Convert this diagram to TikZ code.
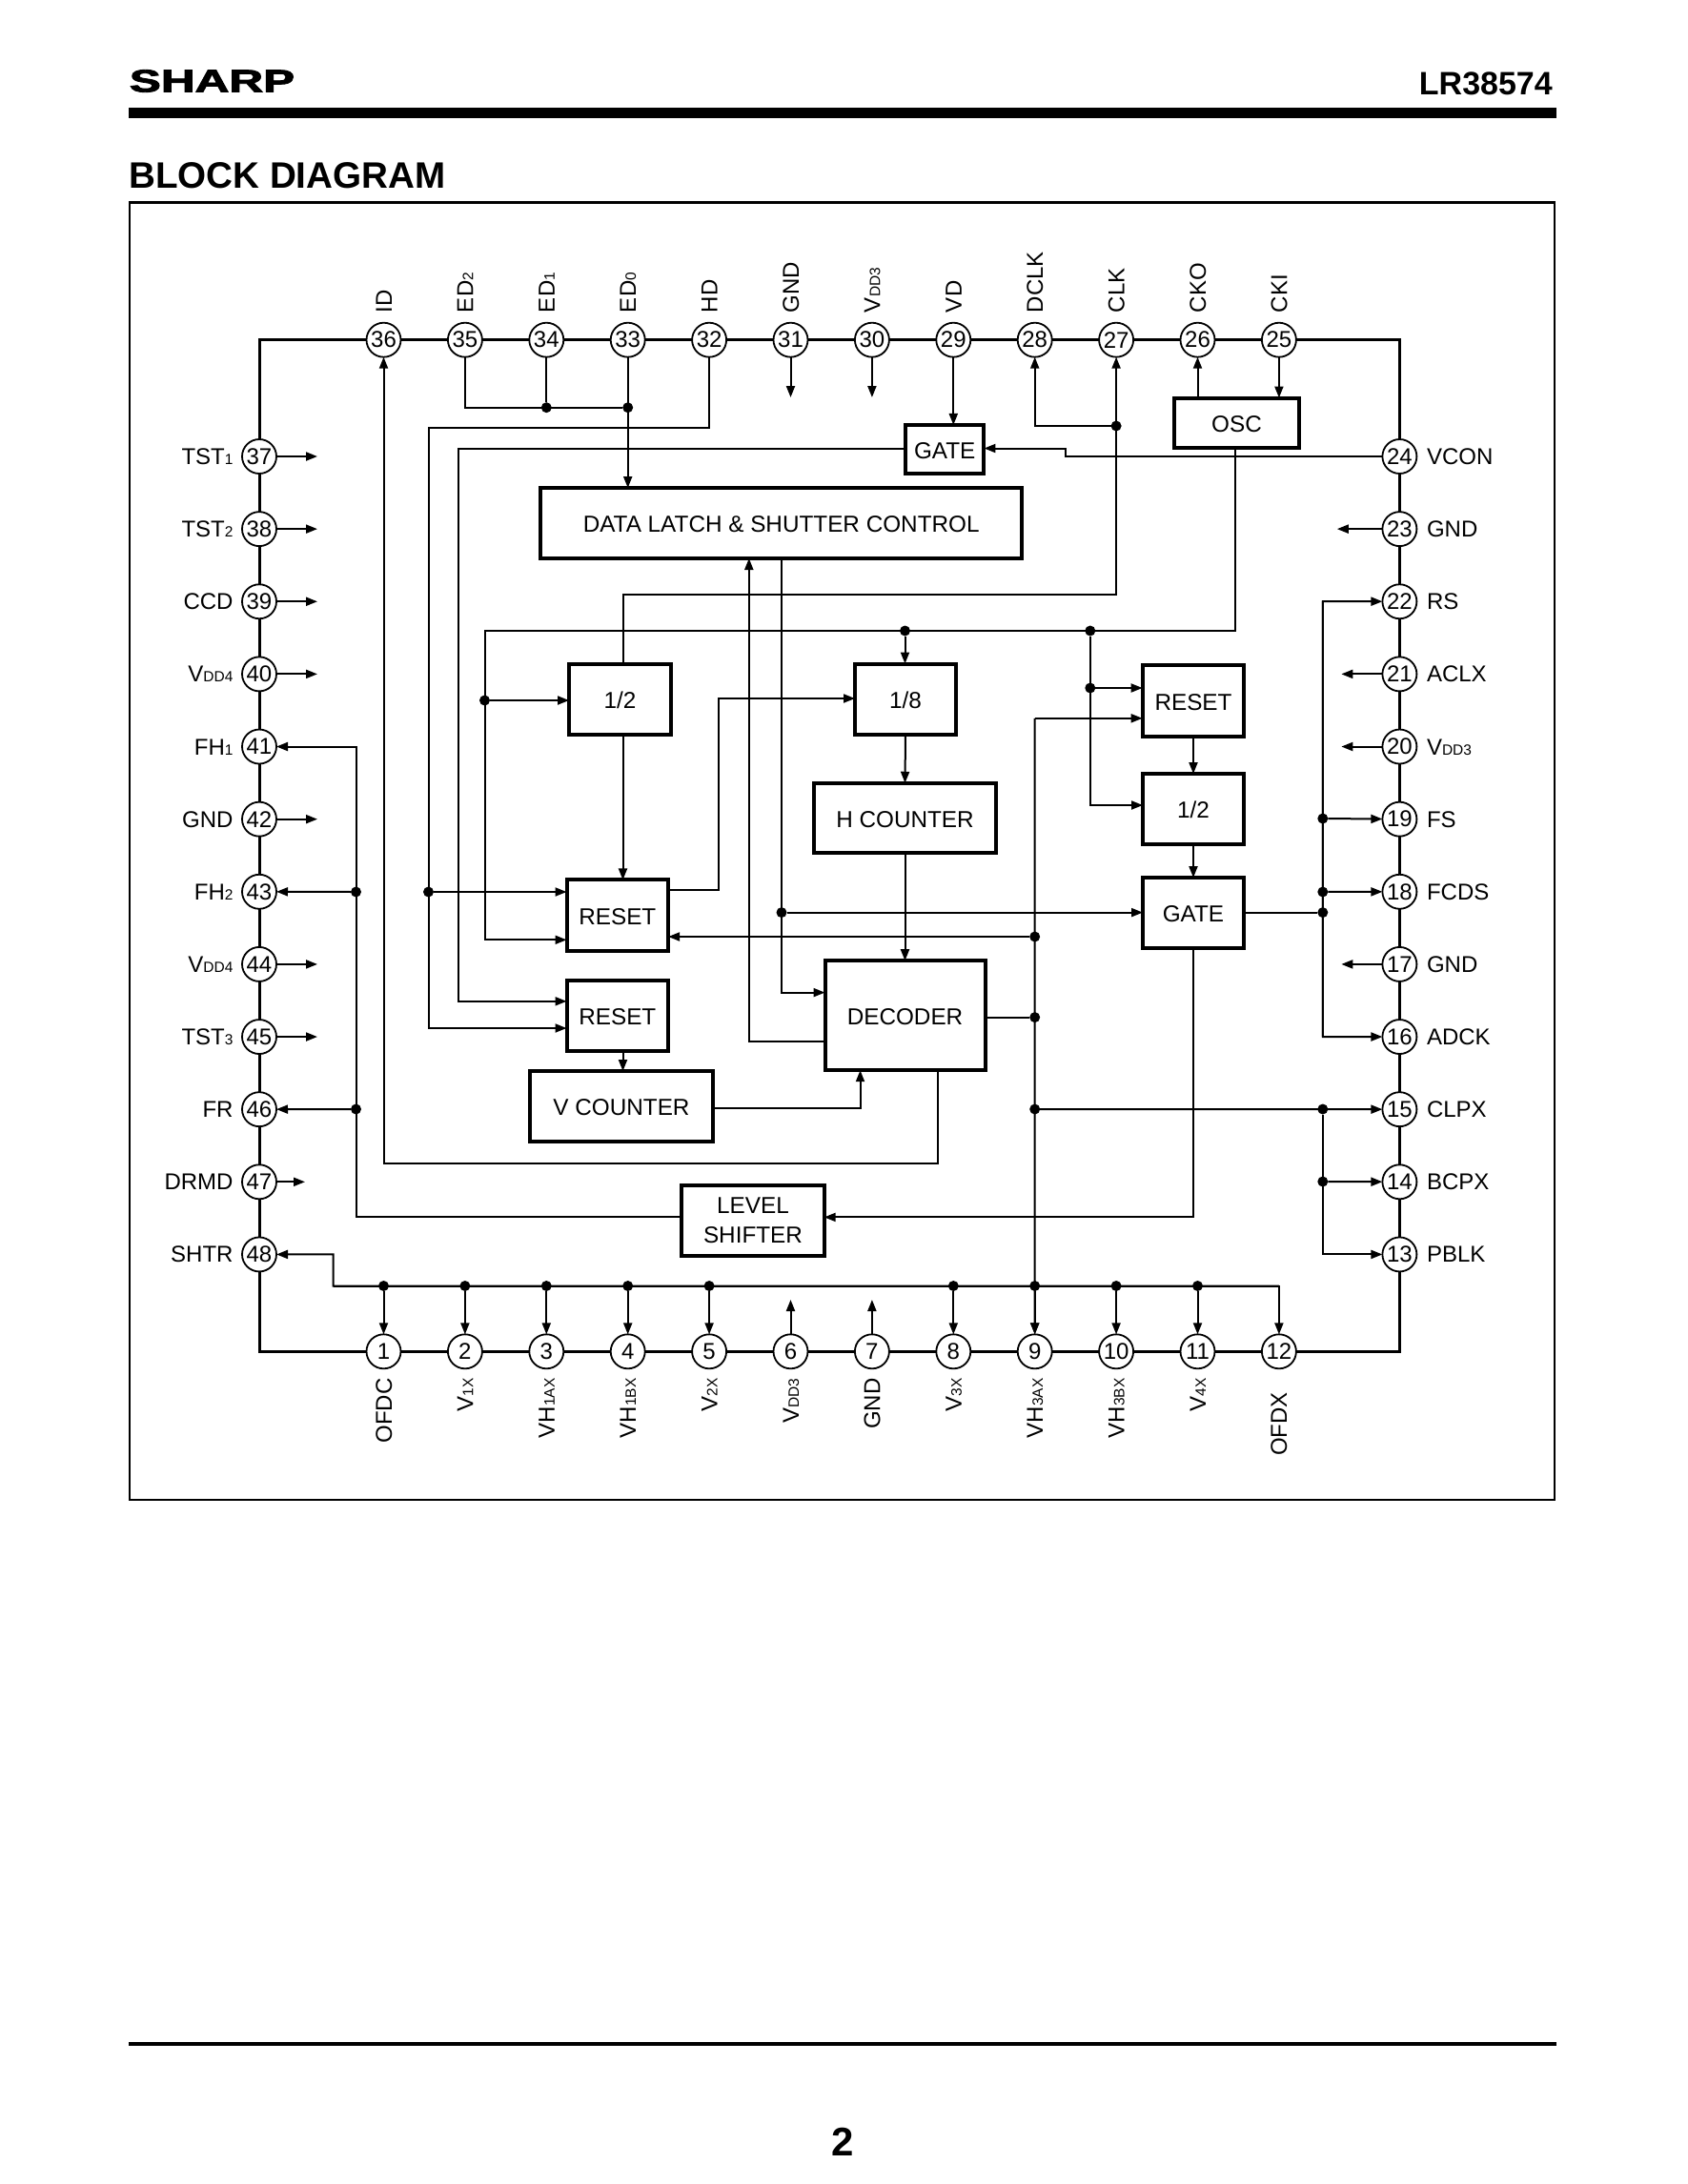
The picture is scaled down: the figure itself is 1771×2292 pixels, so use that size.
\documentclass[tikz,border=0pt]{standalone}
\usepackage{fontspec}
\setmainfont{Liberation Sans}
\newfontfamily\logofont{Liberation Sans}[BoldFeatures={FakeBold=2.5}]
\usetikzlibrary{arrows.meta}
\newcommand{\sm}[1]{{\fontsize{15.5}{15.5}\selectfont #1}}
\newcommand{\fs}[1]{\fontsize{#1}{#1}\selectfont}
\tikzset{
 wire/.style={line width=2pt,line join=miter},
 wirea/.style={wire,-{Triangle[length=12pt,width=9pt]}},
 ring/.style={line width=3pt},
 pinc/.style={circle,draw,line width=1.8pt,fill=white,minimum size=36pt,inner sep=0pt,outer sep=0pt,font=\fs{24}},
 jdot/.style={circle,fill=black,minimum size=11pt,inner sep=0pt,outer sep=0pt},
 blk/.style={draw,line width=4pt,inner sep=0pt,outer sep=0pt,font=\fs{24.3},text height=19.5pt,text depth=0pt},
 blk2/.style={draw,line width=4pt,inner sep=0pt,outer sep=0pt,font=\fs{24.3},align=center},
 lbl/.style={inner sep=0pt,outer sep=0pt,font=\fs{24},text height=17pt,text depth=0pt},
}
\begin{document}
\begin{tikzpicture}[x=1pt,y=-1pt]
\useasboundingbox (0,0) rectangle (1771,2292);
\fill[white] (0,0) rectangle (1771,2292);
% page furniture
\node[inner sep=0pt,anchor=center,xscale=1.5,font=\logofont\bfseries\fs{33}] (logo) at (222.5,85) {SHARP};
\node[inner sep=0pt,anchor=east,font=\bfseries\fs{34}] (partno) at (1629,88) {LR38574};
\fill (134.5,113) rectangle (1633,124);
\node[inner sep=0pt,anchor=west,font=\bfseries\fs{38.6}] (title) at (135,184) {BLOCK DIAGRAM};
\draw[line width=2.5pt] (136,212.5) rectangle (1631,1574);
\fill (134.5,2142.5) rectangle (1633,2147);
\node[inner sep=0pt,font=\bfseries\fs{42}] (pageno) at (884,2248) {2};
% pins
\foreach \n in {25,...,36}{\pgfmathsetmacro\xx{402.5+85.4*(36-\n)}\node[pinc] (p\n) at (\xx,356.7) {\n};}
\foreach \n in {1,...,12}{\pgfmathsetmacro\xx{402.5+85.4*(\n-1)}\node[pinc] (p\n) at (\xx,1418.3) {\n};}
\foreach \n in {37,...,48}{\pgfmathsetmacro\yy{479+76.13*(\n-37)}\node[pinc] (p\n) at (272,\yy) {\n};}
\foreach \n in {13,...,24}{\pgfmathsetmacro\yy{479+76.13*(24-\n)}\node[pinc] (p\n) at (1468.4,\yy) {\n};}
% ring
\foreach \a/\b in {1/2,2/3,3/4,4/5,5/6,6/7,7/8,8/9,9/10,10/11,11/12,13/14,14/15,15/16,16/17,17/18,18/19,19/20,20/21,21/22,22/23,23/24,25/26,26/27,27/28,28/29,29/30,30/31,31/32,32/33,33/34,34/35,35/36,37/38,38/39,39/40,40/41,41/42,42/43,43/44,44/45,45/46,46/47,47/48}{\draw[ring] (p\a) -- (p\b);}
\draw[ring] (p12) -| (p13);
\draw[ring] (p24) |- (p25);
\draw[ring] (p36) -| (p37);
\draw[ring] (p48) |- (p1);
% pin labels
\coordinate (tl) at (0,328);
\coordinate (bl) at (0,1446.5);
\coordinate (ll) at (244.5,0);
\coordinate (rl) at (1497,0);
\foreach \n/\lab in {36/ID,35/ED\sm{2},34/ED\sm{1},33/ED\sm{0},32/HD,31/GND,30/V\sm{DD3},29/VD,28/DCLK,27/CLK,26/CKO,25/CKI}{\node[lbl,rotate=90,anchor=west] (t\n) at (p\n |- tl) {\lab};}
\foreach \n/\lab in {1/OFDC,2/V\sm{1X},3/VH\sm{1AX},4/VH\sm{1BX},5/V\sm{2X},6/V\sm{DD3},7/GND,8/V\sm{3X},9/VH\sm{3AX},10/VH\sm{3BX},11/V\sm{4X}}{\node[lbl,rotate=90,anchor=east] (t\n) at (p\n |- bl) {\lab};}
\node[lbl,rotate=90,anchor=east] (t12) at (1341.5,1461) {OFDX};
\foreach \n/\lab in {37/TST\sm{1},38/TST\sm{2},39/CCD,40/V\sm{DD4},41/FH\sm{1},42/GND,43/FH\sm{2},44/V\sm{DD4},45/TST\sm{3},46/FR,47/DRMD,48/SHTR}{\node[lbl,anchor=east] (t\n) at (p\n -| ll) {\lab};}
\foreach \n/\lab in {24/VCON,23/GND,22/RS,21/ACLX,20/V\sm{DD3},19/FS,18/FCDS,17/GND,16/ADCK,15/CLPX,14/BCPX,13/PBLK}{\node[lbl,anchor=west] (t\n) at (p\n -| rl) {\lab};}
% blocks
\node[blk,minimum width=505.5pt,minimum height=74pt] (dl) at (819.7,549) {DATA LATCH \& SHUTTER CONTROL};
\node[blk,minimum width=82.5pt,minimum height=51.5pt] (gt) at (991.2,471.7) {GATE};
\node[blk,minimum width=131pt,minimum height=52pt] (osc) at (1297.5,443.5) {OSC};
\node[blk,minimum width=107pt,minimum height=74pt] (d2) at (650.5,733.5) {1/2};
\node[blk,minimum width=106pt,minimum height=74pt] (d8) at (950,733.5) {1/8};
\node[blk,minimum width=191pt,minimum height=73.5pt] (hc) at (949.5,858.5) {H COUNTER};
\node[blk,minimum width=106.6pt,minimum height=74.8pt] (r1) at (647.8,960.8) {RESET};
\node[blk,minimum width=106.6pt,minimum height=74.8pt] (r2) at (647.8,1066) {RESET};
\node[blk,minimum width=192pt,minimum height=74pt] (vc) at (652,1161) {V COUNTER};
\node[blk,minimum width=168pt,minimum height=115pt] (dec) at (949.5,1065.7) {DECODER};
\node[blk2,minimum width=149.4pt,minimum height=73.7pt] (ls) at (790,1281) {LEVEL\\[7pt]SHIFTER};
\node[blk,minimum width=106.7pt,minimum height=74.8pt] (rr) at (1252,735.4) {RESET};
\node[blk,minimum width=106pt,minimum height=74pt] (hh) at (1252,849) {1/2};
\node[blk,minimum width=106pt,minimum height=74pt] (gr) at (1252,958) {GATE};
% junctions
\node[jdot] (j34) at (p34 |- 0,427.7) {};
\node[jdot] (j33) at (p33 |- 0,427.7) {};
\node[jdot] (j27) at (p27 |- 0,447) {};
\node[jdot] (jo1) at (508.5,735) {};
\node[jdot] (jo2) at (949.5,662) {};
\node[jdot] (jo3) at (1143.8,662) {};
\node[jdot] (jo4) at (1143.8,722) {};
\node[jdot] (jh) at (449.5,936) {};
\node[jdot] (jdl) at (820,957.6) {};
\node[jdot] (j9a) at (p9 |- 0,983) {};
\node[jdot] (j9b) at (p9 |- 0,1067.6) {};
\node[jdot] (j9c) at (p9 |- 0,1164) {};
\node[jdot] (j43) at (373.5,936) {};
\node[jdot] (j46) at (373.5,1164) {};
\node[jdot] (j19) at (1387.8,859) {};
\node[jdot] (j18) at (1387.8,936) {};
\node[jdot] (jg) at (1387.8,957.6) {};
\node[jdot] (j15) at (1387.8,1164) {};
\node[jdot] (j14) at (1387.8,1240) {};
\coordinate (ybus) at (0,1349.5);
\foreach \n in {1,2,3,4,5,8,9,10,11}{\node[jdot] (jb\n) at (p\n |- ybus) {}; \draw[wirea] (jb\n) -- (p\n);}
% routing points
\coordinate (c32) at (449.5,448.7);
\coordinate (r2b) at (449.5,1079);
\coordinate (r2c) at (480.5,1050.8);
\coordinate (vc2) at (1117.5,470.5);
\coordinate (c27) at (653.5,623.7);
\coordinate (co1) at (1296,662);
\coordinate (co2) at (508.5,986.3);
\coordinate (c45) at (1143.8,845);
\coordinate (cr1) at (753.5,934);
\coordinate (cr1b) at (753.5,733);
\coordinate (cdl) at (820,1041.6);
\coordinate (cup) at (785.8,1093);
\coordinate (c9) at (1085.5,753.8);
\coordinate (cvc) at (902.5,1163);
\coordinate (cgl) at (1250,1277.4);
\coordinate (cll) at (373.5,1277.4);
\coordinate (cid) at (984.4,1220.5);
\coordinate (c22) at (1387.8,631);
\coordinate (c16) at (1387.8,1088);
\coordinate (c48) at (349.5,1349.5);
\coordinate (c48b) at (349.5,1316.4);
% wires at the top
\draw[wire] (p35) |- (j33);
\draw[wire] (p34) -- (j34);
\draw[wirea] (p33) -- (p33 |- dl.north);
\draw[wirea] (p32) |- (c32) -- (r2b) -- (r2.west |- r2b);
\draw[wirea] (jh) -- (r1.west |- jh);
\draw[wirea] (gt.west |- vc2) -| (r2c) -- (r2.west |- r2c);
\draw[wirea] (p24) -| (vc2) -- (gt.east |- vc2);
\draw[wirea] (p29) -- (p29 |- gt.north);
\draw[wirea] (j27) -| (p28);
\draw[wirea] (c27 |- d2.north) -- (c27) -| (p27);
\draw[wirea] (p26 |- osc.north) -- (p26);
\draw[wirea] (p25) -- (p25 |- osc.north);
% clock bus
\draw[wirea] (co1 |- osc.south) -- (co1) -| (co2) -- (r1.west |- co2);
\draw[wirea] (jo1) -- (d2.west |- jo1);
\draw[wirea] (jo2) -- (jo2 |- d8.north);
\draw[wirea] (jo3) |- (hh.west |- c45);
\draw[wirea] (jo4) -- (rr.west |- jo4);
% inner blocks
\draw[wirea] (c27 |- d2.south) -- (c27 |- r1.north);
\draw[wirea] (r1.east |- cr1) -- (cr1) -- (cr1b) -- (d8.west |- cr1b);
\draw[wirea] (cdl |- dl.south) -- (cdl) -- (dec.west |- cdl);
\draw[wirea] (jdl) -- (gr.west |- jdl);
\draw[wirea] (dec.west |- cup) -- (cup) -- (cup |- dl.south);
\draw[wirea] (d8.south) -- (hc.north);
\draw[wirea] (hc.south) -- (dec.north);
\draw[wirea] (c27 |- r2.south) -- (c27 |- vc.north);
\draw[wirea] (c9) -- (rr.west |- c9);
\draw[wirea] (c9) -- (p9);
\draw[wirea] (j9a) -- (r1.east |- j9a);
\draw[wire] (dec.east |- j9b) -- (j9b);
\draw[wirea] (j9c) -- (p15);
\draw[wirea] (vc.east |- cvc) -- (cvc) -- (cvc |- dec.south);
\draw[wirea] (rr.south) -- (hh.north);
\draw[wirea] (hh.south) -- (gr.north);
\draw[wirea] (gr.south) |- (ls.east |- cgl);
\draw[wirea] (ls.west |- cll) -- (cll) |- (p41);
\draw[wirea] (j43) -- (p43);
\draw[wirea] (j46) -- (p46);
\draw[wirea] (cid |- dec.south) -- (cid) -| (p36);
\draw[wire] (gr.east |- jg) -- (jg);
\draw[wirea] (c16) -- (c22) -- (p22);
\draw[wirea] (c22) -- (c16) -- (p16);
\draw[wirea] (j19) -- (p19);
\draw[wirea] (j18) -- (p18);
\draw[wirea] (j14) -- (p14);
\draw[wirea] (j15) |- (p13);
\draw[wirea] (p12 |- c48) -- (c48) -- (c48b) -- (p48);
\draw[wirea] (c48) -| (p12);
% power and test stubs
\foreach \n in {37,38,39,40,42,44,45}{\coordinate (s\n) at (333,0); \draw[wirea] (p\n) -- (s\n |- p\n);}
\coordinate (s47) at (320,0);
\draw[wirea] (p47) -- (s47 |- p47);
\coordinate (st) at (0,417);
\draw[wirea] (p31) -- (p31 |- st);
\draw[wirea] (p30) -- (p30 |- st);
\coordinate (sb) at (0,1364);
\draw[wirea] (p6) -- (p6 |- sb);
\draw[wirea] (p7) -- (p7 |- sb);
\coordinate (s23) at (1402.8,0);
\draw[wirea] (p23) -- (s23 |- p23);
\coordinate (sr) at (1407.3,0);
\foreach \n in {21,20,17}{\draw[wirea] (p\n) -- (sr |- p\n);}
\end{tikzpicture}
\end{document}
